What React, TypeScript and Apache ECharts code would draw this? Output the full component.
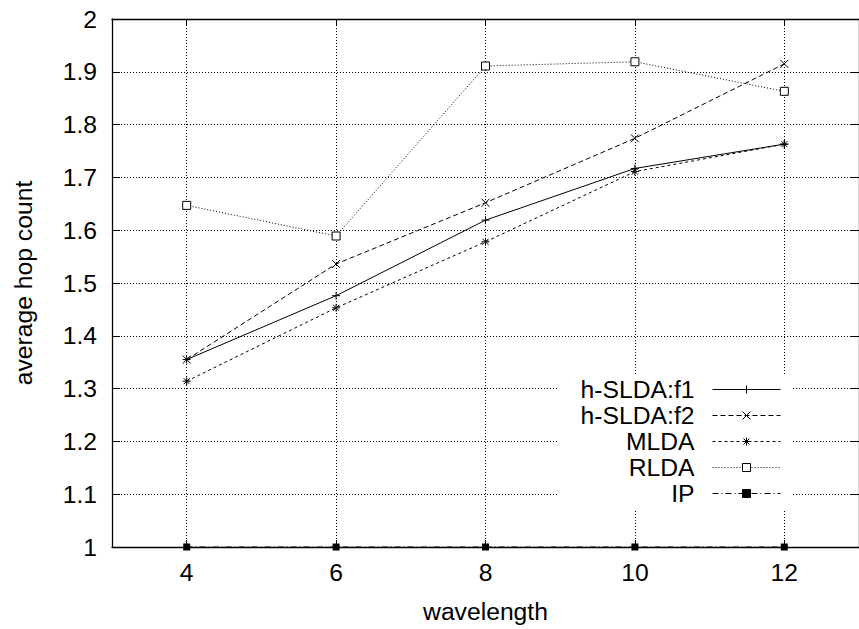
import React, { useEffect, useRef } from "react";
import * as echarts from "echarts";

const wavelengths = [4, 6, 8, 10, 12];
const hSLDAf1 = [1.355, 1.476, 1.619, 1.717, 1.763];
const hSLDAf2 = [1.355, 1.536, 1.652, 1.774, 1.915];
const mlda = [1.314, 1.453, 1.578, 1.711, 1.763];
const rlda = [1.647, 1.589, 1.911, 1.919, 1.863];
const ip = [1, 1, 1, 1, 1];
const seriesNames = ["h-SLDA:f1", "h-SLDA:f2", "MLDA", "RLDA", "IP"];

const FONT = "'Liberation Sans', Arial, Helvetica, sans-serif";
const FS = 24.7;

const PLUS = "path://M0,4L8,4M4,0L4,8";
const CROSS = "path://M0,0L8,8M8,0L0,8";
const STAR = "path://M0,4L8,4M4,0L4,8M1,1L7,7M7,1L1,7";
const SQUARE = "path://M0,0L8,0L8,8L0,8Z";

export default function App() {
  const ref = useRef<HTMLDivElement>(null);
  useEffect(() => {
    if (!ref.current) return;
    const chart = echarts.init(ref.current, undefined, { renderer: "svg" });
    const pts = (arr: number[]) => wavelengths.map((w, i) => [w, arr[i]]);
    const mk = (
      name: string,
      arr: number[],
      symbol: string,
      size: number,
      dash: any,
      filled = false
    ) => ({
      name,
      type: "line",
      data: pts(arr),
      symbol,
      symbolSize: size,
      clip: false,
      showAllSymbol: true,
      lineStyle: { color: "#000", width: 1, type: dash },
      itemStyle: filled
        ? { color: "#000", borderColor: "#000", borderWidth: 0 }
        : { color: "#fff", borderColor: "#000", borderWidth: 1 },
      emphasis: { disabled: true },
    });
    const gridLine = { color: "#000", width: 1, type: [1, 2] };
    chart.setOption({
      animation: false,
      backgroundColor: "#fff",
      textStyle: { fontFamily: FONT },
      grid: { left: 112, top: 19, width: 750, height: 529 },
      legend: {
        data: seriesNames,
        orient: "vertical",
        align: "right",
        right: 66,
        top: 375,
        padding: [2, 12, 4, 22],
        backgroundColor: "#fff",
        itemWidth: 68,
        itemHeight: 10,
        itemGap: 1,
        selectedMode: false,
        itemStyle: { borderWidth: 1 },
        lineStyle: { width: 1 },
        textStyle: {
          fontFamily: FONT,
          fontSize: FS,
          color: "#000",
          padding: [0, 13, 0, 0],
        },
      },
      xAxis: [
        {
          type: "value",
          min: 3,
          max: 13,
          name: "wavelength",
          nameLocation: "middle",
          nameGap: 52,
          nameTextStyle: { fontFamily: FONT, fontSize: FS, color: "#000" },
          axisLine: { show: true, lineStyle: { color: "#000", width: 1.3 } },
          axisTick: { show: true, inside: true, length: 7, lineStyle: { color: "#000" } },
          axisLabel: {
            margin: 13,
            fontFamily: FONT,
            fontSize: FS,
            color: "#000",
            showMinLabel: false,
            showMaxLabel: false,
          },
          splitLine: { show: true, lineStyle: gridLine },
        },
        {
          type: "value",
          position: "top",
          min: 3,
          max: 13,
          axisLine: { show: true, lineStyle: { color: "#000", width: 1.3 } },
          axisTick: { show: true, inside: true, length: 7, lineStyle: { color: "#000" } },
          axisLabel: { show: false },
          splitLine: { show: false },
        },
      ],
      yAxis: [
        {
          type: "value",
          min: 1,
          max: 2,
          interval: 0.1,
          name: "average hop count",
          nameLocation: "middle",
          nameGap: 76,
          nameTextStyle: { fontFamily: FONT, fontSize: FS, color: "#000" },
          axisLine: { show: true, lineStyle: { color: "#000", width: 1.3 } },
          axisTick: { show: true, inside: true, length: 8, lineStyle: { color: "#000" } },
          axisLabel: { margin: 15, fontFamily: FONT, fontSize: FS, color: "#000" },
          splitLine: { show: true, lineStyle: gridLine },
        },
        {
          type: "value",
          position: "right",
          min: 1,
          max: 2,
          interval: 0.1,
          axisLine: { show: true, lineStyle: { color: "#000", width: 1.3 } },
          axisTick: { show: true, inside: true, length: 8, lineStyle: { color: "#000" } },
          axisLabel: { show: false },
          splitLine: { show: false },
        },
      ],
      series: [
        mk(seriesNames[0], hSLDAf1, PLUS, 8, "solid"),
        mk(seriesNames[1], hSLDAf2, CROSS, 8, [5, 3]),
        mk(seriesNames[2], mlda, STAR, 8, [3, 3]),
        mk(seriesNames[3], rlda, SQUARE, 8, [1, 2]),
        mk(seriesNames[4], ip, "rect", 7, [6, 3, 1, 3], true),
      ],
    });
    return () => chart.dispose();
  }, []);
  return (
    <div
      ref={ref}
      style={{ position: "fixed", left: 0, top: 0, width: 859, height: 629 }}
    />
  );
}
